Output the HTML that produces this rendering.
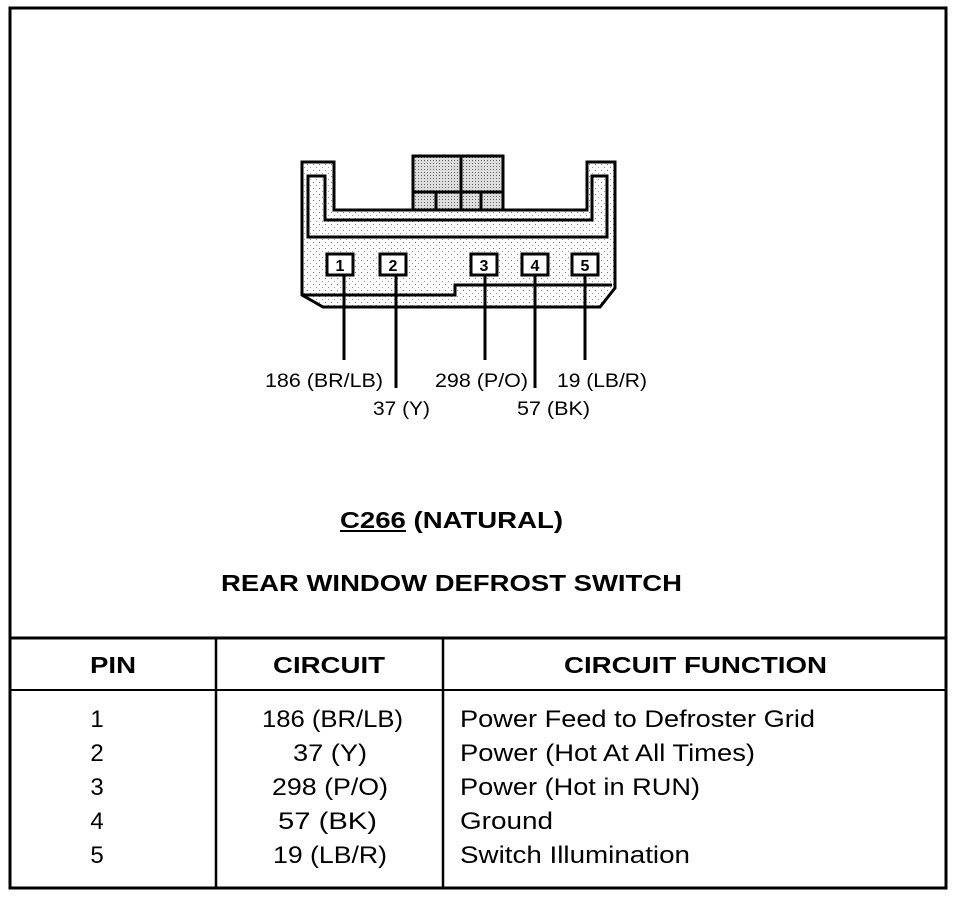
<!DOCTYPE html>
<html><head><style>
body{margin:0;background:#fff;}
svg{display:block;}
text{font-family:"Liberation Sans",Arial,sans-serif;fill:#000;}
</style></head><body>
<svg width="960" height="898" viewBox="0 0 960 898">
<defs>
<pattern id="dots" width="6" height="6" patternUnits="userSpaceOnUse">
<rect width="6" height="6" fill="#fff"/><rect x="1" y="2" width="1" height="1" fill="#777"/><rect x="4" y="5" width="1" height="1" fill="#999"/>
</pattern>
<pattern id="dense" width="3" height="3" patternUnits="userSpaceOnUse">
<rect width="3" height="3" fill="#ddd"/><rect x="1" y="1" width="1" height="1" fill="#666"/>
</pattern>
</defs>
<rect x="10" y="8" width="936" height="880" fill="none" stroke="#000" stroke-width="3"/>
<line x1="10" y1="638" x2="946" y2="638" stroke="#000" stroke-width="3"/>
<line x1="10" y1="690" x2="946" y2="690" stroke="#000" stroke-width="2"/>
<line x1="216" y1="638" x2="216" y2="888" stroke="#000" stroke-width="2.5"/>
<line x1="443" y1="638" x2="443" y2="888" stroke="#000" stroke-width="2.5"/>

<g stroke="#000" stroke-width="3" stroke-linejoin="miter">
<path d="M413,156 H503 V210 H413 Z" fill="url(#dense)"/>
<line x1="461" y1="156" x2="461" y2="210"/>
<line x1="413" y1="192" x2="503" y2="192"/>
<line x1="436" y1="192" x2="436" y2="210"/>
<line x1="481" y1="192" x2="481" y2="210"/>
<path d="M302,162 H334 V210 H587 V162 H615 V288 L600,307 H323 L302,295 Z" fill="url(#dots)"/>
<path d="M308,176 H325 V220 H592 V176 H607 V237 H308 Z" fill="url(#dots)"/>
<path d="M302,295 H455 V285 H612" fill="none"/>
<g fill="#fff">
<rect x="327" y="254" width="26" height="21"/>
<rect x="380" y="254" width="26" height="21"/>
<rect x="471" y="254" width="26" height="21"/>
<rect x="522" y="254" width="26" height="21"/>
<rect x="572" y="254" width="26" height="21"/>
</g>
<line x1="344" y1="275" x2="344" y2="360"/>
<line x1="396" y1="275" x2="396" y2="388"/>
<line x1="485" y1="275" x2="485" y2="360"/>
<line x1="535" y1="275" x2="535" y2="388"/>
<line x1="585" y1="275" x2="585" y2="360"/>
</g>
<g font-size="16" font-weight="bold" text-anchor="middle">
<text x="340" y="271">1</text><text x="393" y="271">2</text><text x="484" y="271">3</text><text x="535" y="271">4</text><text x="585" y="271">5</text>
</g>
<g font-size="19" lengthAdjust="spacingAndGlyphs">
<text x="265" y="387" textLength="118" lengthAdjust="spacingAndGlyphs">186 (BR/LB)</text>
<text x="373" y="415" textLength="57" lengthAdjust="spacingAndGlyphs">37 (Y)</text>
<text x="435" y="387" textLength="93" lengthAdjust="spacingAndGlyphs">298 (P/O)</text>
<text x="517" y="415" textLength="73" lengthAdjust="spacingAndGlyphs">57 (BK)</text>
<text x="557" y="387" textLength="90" lengthAdjust="spacingAndGlyphs">19 (LB/R)</text>
</g>
<g font-size="23" font-weight="bold">
<text x="340" y="528" textLength="223" lengthAdjust="spacingAndGlyphs">C266 (NATURAL)</text>
<line x1="340" y1="531" x2="406" y2="531" stroke="#000" stroke-width="2"/>
<text x="221" y="591" textLength="461" lengthAdjust="spacingAndGlyphs">REAR WINDOW DEFROST SWITCH</text>
<text x="90" y="673" textLength="46" lengthAdjust="spacingAndGlyphs">PIN</text>
<text x="273" y="673" textLength="112" lengthAdjust="spacingAndGlyphs">CIRCUIT</text>
<text x="564" y="673" textLength="263" lengthAdjust="spacingAndGlyphs">CIRCUIT FUNCTION</text>
</g>
<g font-size="24">
<text x="97" y="727" text-anchor="middle">1</text>
<text x="97" y="761" text-anchor="middle">2</text>
<text x="97" y="795" text-anchor="middle">3</text>
<text x="97" y="829" text-anchor="middle">4</text>
<text x="97" y="863" text-anchor="middle">5</text>
<text x="262" y="727" textLength="141" lengthAdjust="spacingAndGlyphs">186 (BR/LB)</text>
<text x="293" y="761" textLength="74" lengthAdjust="spacingAndGlyphs">37 (Y)</text>
<text x="272" y="795" textLength="116" lengthAdjust="spacingAndGlyphs">298 (P/O)</text>
<text x="278" y="829" textLength="99" lengthAdjust="spacingAndGlyphs">57 (BK)</text>
<text x="273" y="863" textLength="114" lengthAdjust="spacingAndGlyphs">19 (LB/R)</text>
<text x="460" y="727" textLength="355" lengthAdjust="spacingAndGlyphs">Power Feed to Defroster Grid</text>
<text x="460" y="761" textLength="295" lengthAdjust="spacingAndGlyphs">Power (Hot At All Times)</text>
<text x="460" y="795" textLength="240" lengthAdjust="spacingAndGlyphs">Power (Hot in RUN)</text>
<text x="460" y="829" textLength="93" lengthAdjust="spacingAndGlyphs">Ground</text>
<text x="460" y="863" textLength="230" lengthAdjust="spacingAndGlyphs">Switch Illumination</text>
</g>
</svg>
</body></html>
